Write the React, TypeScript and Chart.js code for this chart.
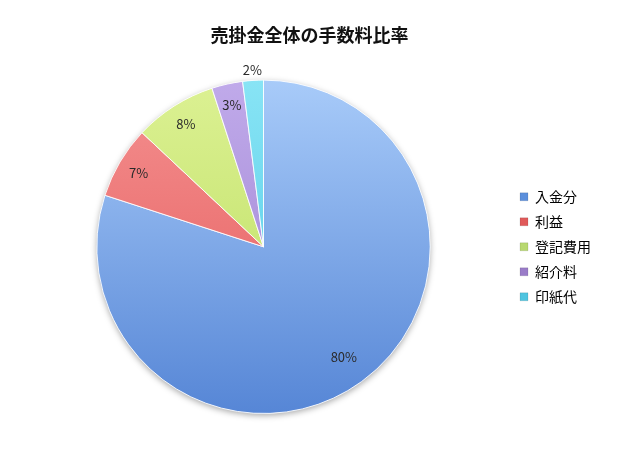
import React, { useEffect, useRef } from "react";
import { Chart, registerables } from "chart.js";

Chart.register(...registerables);

const TITLE = "売掛金全体の手数料比率";
const CATEGORIES = ["入金分", "利益", "登記費用", "紹介料", "印紙代"];
const VALUES = [80, 7, 8, 3, 2];
const TOP_COLORS = ["#a8cbf9", "#f49090", "#dcf193", "#c0aaea", "#88e4f5"];
const BOTTOM_COLORS = ["#5686d6", "#e45858", "#b9dc5c", "#9b7fcf", "#4cc8e4"];
const LEGEND_COLORS = ["#5b8fdc", "#e05a5a", "#b8d870", "#9a7cc8", "#4ec4e0"];
const FONT = "'Noto Sans CJK JP', 'Noto Sans', sans-serif";

const shadowPlugin = {
  id: "pieShadow",
  beforeDatasetsDraw(chart: any) {
    const meta = chart.getDatasetMeta(0);
    const arc = meta.data[0];
    if (!arc) return;
    const { x, y, outerRadius } = arc.getProps(["x", "y", "outerRadius"], true);
    const ctx = chart.ctx;
    ctx.save();
    ctx.shadowColor = "rgba(0,0,0,0.35)";
    ctx.shadowBlur = 6;
    ctx.shadowOffsetX = 0;
    ctx.shadowOffsetY = 2;
    ctx.beginPath();
    ctx.arc(x, y, outerRadius, 0, Math.PI * 2);
    ctx.fillStyle = "#ffffff";
    ctx.fill();
    ctx.restore();
  },
};

const labelPlugin = {
  id: "pctLabels",
  afterDatasetsDraw(chart: any) {
    const meta = chart.getDatasetMeta(0);
    const ctx = chart.ctx;
    const data = chart.data.datasets[0].data as number[];
    const total = data.reduce((a, b) => a + b, 0);
    ctx.save();
    ctx.font = `13px ${FONT}`;
    ctx.fillStyle = "#2a2a2a";
    ctx.textAlign = "center";
    ctx.textBaseline = "middle";
    meta.data.forEach((el: any, i: number) => {
      const { x, y, startAngle, endAngle, outerRadius } = el.getProps(
        ["x", "y", "startAngle", "endAngle", "outerRadius"],
        true
      );
      const pct = (data[i] / total) * 100;
      const mid = (startAngle + endAngle) / 2;
      const f = pct <= 2.5 ? 1.06 : pct > 50 ? 0.82 : 0.87;
      const lx = x + Math.cos(mid) * outerRadius * f;
      const ly = y + Math.sin(mid) * outerRadius * f;
      ctx.fillText(`${Math.round(pct)}%`, lx, ly);
    });
    ctx.restore();
  },
};

export default function App() {
  const ref = useRef<HTMLCanvasElement | null>(null);

  useEffect(() => {
    if (!ref.current) return;
    const makeGrad = (i: number) => (c: any) => {
      const chart = c.chart;
      const area = chart.chartArea;
      if (!area) return TOP_COLORS[i];
      const g = chart.ctx.createLinearGradient(0, area.top, 0, area.bottom);
      g.addColorStop(0, TOP_COLORS[i]);
      g.addColorStop(1, BOTTOM_COLORS[i]);
      return g;
    };
    const chart = new Chart(ref.current, {
      type: "pie",
      data: {
        labels: CATEGORIES,
        datasets: [
          {
            data: VALUES,
            backgroundColor: (c: any) => makeGrad(c.dataIndex)(c),
            borderColor: "rgba(255,255,255,0.85)",
            borderWidth: 1,
          },
        ],
      },
      options: {
        responsive: false,
        animation: false,
        devicePixelRatio: 1,
        layout: { padding: { left: 18, right: 19, top: 0, bottom: 51 } },
        plugins: {
          title: {
            display: true,
            text: TITLE,
            color: "#111111",
            font: { family: FONT, size: 18, weight: "bold" },
            padding: { top: 24, bottom: 34 },
          },
          legend: {
            display: true,
            position: "right",
            align: "center",
            fullSize: false,
            labels: {
              boxWidth: 8,
              boxHeight: 8,
              padding: 11,
              color: "#222222",
              font: { family: FONT, size: 14 },
              generateLabels: (ch: any) =>
                CATEGORIES.map((t, i) => ({
                  text: t,
                  fillStyle: LEGEND_COLORS[i],
                  strokeStyle: "rgba(0,0,0,0.2)",
                  lineWidth: 0.5,
                  hidden: false,
                  index: i,
                  datasetIndex: 0,
                })),
            },
          },
          tooltip: { enabled: false },
        },
      },
      plugins: [shadowPlugin, labelPlugin],
    });
    return () => chart.destroy();
  }, []);

  return (
    <div style={{ position: "absolute", left: 0, top: 0, width: 620, height: 465, background: "#fff" }}>
      <canvas ref={ref} width={620} height={465} style={{ display: "block" }} />
    </div>
  );
}
